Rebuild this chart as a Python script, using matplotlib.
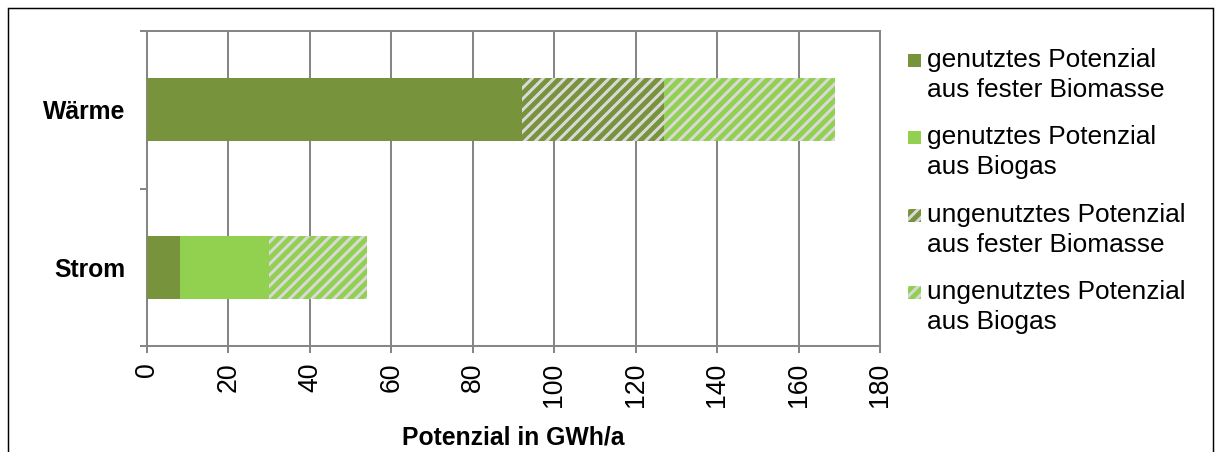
import matplotlib
matplotlib.use("Agg")
import matplotlib.pyplot as plt
import numpy as np
from matplotlib.patches import Rectangle

# data (GWh/a)
categories = ["Strom", "Wärme"]
genutzt_fest = [8, 92]
genutzt_biogas = [22, 0]
ungenutzt_fest = [0, 35]
ungenutzt_biogas = [24, 42]
xticks = np.arange(0, 181, 20)

legend_labels = ["genutztes Potenzial\naus fester Biomasse",
                 "genutztes Potenzial\naus Biogas",
                 "ungenutztes Potenzial\naus fester Biomasse",
                 "ungenutztes Potenzial\naus Biogas"]

dark = "#77933c"
light = "#92d050"
grey_bg = "#d9d9d9"
axis_grey = "#868686"

DPI = 132
plt.rcParams["font.family"] = ["Liberation Sans", "DejaVu Sans"]
plt.rcParams["hatch.linewidth"] = 2.6

fig = plt.figure(figsize=(1215 / DPI, 452 / DPI), dpi=DPI)
ax = fig.add_axes([147 / 1215, 1 - 346 / 452, 733 / 1215, 315 / 452])

y = np.arange(len(categories))
h = 0.4
left = np.zeros(len(categories))
series = [(genutzt_fest, dark, None), (genutzt_biogas, light, None),
          (ungenutzt_fest, grey_bg, dark), (ungenutzt_biogas, grey_bg, light)]
for vals, fc, hc in series:
    vals = np.array(vals, dtype=float)
    if hc is None:
        ax.barh(y, vals, h, left=left, color=fc, linewidth=0, zorder=3)
    else:
        ax.barh(y, vals, h, left=left, facecolor=fc, edgecolor=hc,
                hatch="////", linewidth=0, zorder=3)
    left += vals

ax.set_xlim(0, 180)
ax.set_ylim(-0.5, 1.5)
ax.set_xticks(xticks)
ax.set_xticklabels([str(t) for t in xticks], rotation=90, fontsize=14.5)
ax.set_yticks(y)
ax.set_yticklabels(categories, fontsize=13.5, fontweight="bold")
ax.set_yticks([-0.5, 0.5, 1.5], minor=True)
ax.tick_params(axis="y", which="major", length=0, pad=12)
ax.tick_params(axis="y", which="minor", length=4, width=1.1,
               color=axis_grey, direction="out")
ax.tick_params(axis="x", length=4, width=1.1, color=axis_grey,
               direction="out", pad=5)
ax.grid(axis="x", color=axis_grey, linewidth=1.1, zorder=0)
ax.set_axisbelow(True)
for s in ["left", "bottom", "top", "right"]:
    ax.spines[s].set_color(axis_grey)
    ax.spines[s].set_linewidth(1.1)
ax.set_xlabel("Potenzial in GWh/a", fontsize=13.5, fontweight="bold", labelpad=10)

# legend drawn by hand (marker aligned with first line)
W, H = 1215, 452
line_y = [60, 137, 215, 292]
for i, lab in enumerate(legend_labels):
    fc, hc = series[i][1], series[i][2]
    y0 = line_y[i]
    if hc is None:
        r = Rectangle((908 / W, 1 - (y0 + 7) / H), 13 / W, 13 / H,
                      transform=fig.transFigure, facecolor=fc, linewidth=0)
    else:
        r = Rectangle((908 / W, 1 - (y0 + 7) / H), 13 / W, 13 / H,
                      transform=fig.transFigure, facecolor=fc, edgecolor=hc,
                      hatch="////", linewidth=0)
    fig.patches.append(r)
    l1, l2 = lab.split("\n")
    fig.text(927 / W, 1 - y0 / H, l1, fontsize=14.3, va="center", ha="left")
    fig.text(927 / W, 1 - (y0 + 30) / H, l2, fontsize=14.3, va="center", ha="left")

# frame around the figure
fig.patches.append(Rectangle((8 / W, -0.05), 1205 / W, 1.05 - 8 / H,
                             transform=fig.transFigure, fill=False,
                             edgecolor="black", linewidth=0.8))

fig.savefig("out.png", dpi=DPI)
